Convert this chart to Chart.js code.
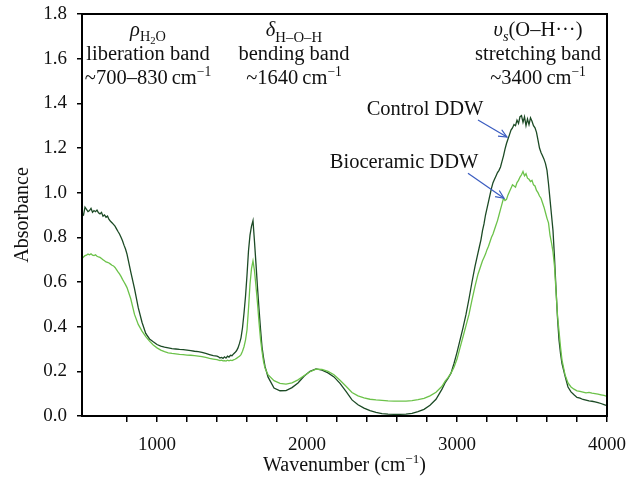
<!DOCTYPE html>
<html>
<head>
<meta charset="utf-8">
<script src="https://cdn.jsdelivr.net/npm/chart.js@4.4.1/dist/chart.umd.min.js"></script>
<style>
html,body{margin:0;padding:0;background:#fff;}
#wrap{position:relative;width:627px;height:486px;}
</style>
</head>
<body>
<div id="wrap"><canvas id="c"></canvas></div>
<script>
// Wavenumber (cm^-1) sample positions
const wavenumbers = [
 500,510,520,530,540,550,560,570,580,590,600,610,620,630,640,650,660,670,680,690,700,710,720,730,740,750,760,770,780,790,800,
 825,850,875,900,925,950,975,1000,1025,1050,1075,1100,1125,1150,1175,1200,1225,1250,1275,1300,1325,1350,1375,1400,
 1410,1420,1430,1440,1450,1460,1470,1480,1490,1500,1510,1520,1530,1540,1550,1560,1570,1580,1590,1600,1610,1620,1630,1640,1650,1660,1670,1680,1690,1700,1710,1720,
 1740,1780,1820,1860,1900,1940,1980,2020,2060,2100,2140,2180,2220,2260,2300,2340,2380,2420,2460,2500,2540,2580,2620,2660,2700,2740,2780,2820,2860,2900,
 2920,2940,2960,2980,3000,3020,3040,3060,3080,3100,3120,3140,
 3150,3160,3170,3180,3190,3200,3210,3220,3230,3240,3250,3260,3270,3280,3290,3300,3310,3320,3330,3340,3350,3360,3370,3380,3390,3400,3410,3420,3430,3440,3450,3460,3470,3480,3490,3500,3510,3520,3530,3540,3550,3560,3570,3580,3590,3600,3610,3620,3630,3640,3650,3660,3670,3680,3690,3700,
 3720,3740,3760,3780,3800,3820,3840,3860,3880,3900,3920,3940,3960,3980,4000
];

// Control DDW absorbance
const controlDDW = [
 0.905,0.900,0.935,0.925,0.915,0.920,0.930,0.912,0.920,0.915,0.922,0.910,0.905,0.912,0.895,0.900,0.890,0.895,0.880,0.872,0.865,0.858,0.850,0.838,0.826,0.815,0.800,0.785,0.765,0.748,0.725,
 0.645,0.570,0.485,0.420,0.370,0.345,0.332,0.320,0.313,0.308,0.305,0.302,0.300,0.298,0.297,0.295,0.293,0.290,0.288,0.285,0.280,0.275,0.270,0.268,
 0.265,0.260,0.262,0.258,0.265,0.259,0.268,0.264,0.272,0.270,0.278,0.284,0.292,0.305,0.325,0.350,0.395,0.460,0.535,0.630,0.740,0.810,0.850,0.875,0.780,0.680,0.575,0.480,0.390,0.310,0.262,0.222,
 0.175,0.125,0.113,0.114,0.127,0.148,0.178,0.200,0.211,0.205,0.193,0.175,0.146,0.110,0.072,0.050,0.035,0.024,0.016,0.011,0.008,0.007,0.007,0.008,0.012,0.020,0.030,0.048,0.075,0.120,
 0.148,0.168,0.192,0.235,0.285,0.340,0.395,0.455,0.525,0.600,0.670,0.730,
 0.760,0.790,0.830,0.860,0.900,0.930,0.960,0.990,1.020,1.045,1.060,1.075,1.090,1.100,1.115,1.140,1.165,1.195,1.220,1.240,1.260,1.280,1.290,1.305,1.300,1.325,1.310,1.340,1.345,1.315,1.340,1.300,1.330,1.305,1.335,1.320,1.300,1.290,1.270,1.235,1.200,1.180,1.165,1.150,1.130,1.100,1.040,0.970,0.900,0.830,0.710,0.570,0.440,0.340,0.280,0.235,
 0.180,0.130,0.108,0.095,0.083,0.080,0.074,0.071,0.068,0.066,0.063,0.060,0.056,0.051,0.046
];

// Bioceramic DDW absorbance
const bioceramicDDW = [
 0.705,0.712,0.718,0.720,0.725,0.722,0.726,0.720,0.718,0.722,0.715,0.712,0.710,0.705,0.700,0.695,0.690,0.688,0.685,0.680,0.675,0.672,0.665,0.655,0.645,0.636,0.625,0.612,0.600,0.588,0.575,
 0.525,0.455,0.410,0.380,0.355,0.335,0.318,0.305,0.295,0.288,0.283,0.280,0.278,0.276,0.275,0.273,0.272,0.270,0.268,0.266,0.262,0.258,0.255,0.252,
 0.250,0.248,0.250,0.247,0.248,0.246,0.250,0.247,0.250,0.248,0.251,0.254,0.258,0.263,0.268,0.275,0.290,0.310,0.340,0.385,0.480,0.590,0.660,0.695,0.650,0.580,0.505,0.420,0.345,0.290,0.245,0.215,
 0.185,0.158,0.146,0.143,0.148,0.162,0.180,0.198,0.210,0.209,0.200,0.185,0.160,0.133,0.105,0.090,0.081,0.075,0.072,0.070,0.068,0.067,0.067,0.067,0.069,0.073,0.079,0.090,0.106,0.133,
 0.155,0.172,0.192,0.218,0.255,0.305,0.355,0.405,0.455,0.520,0.580,0.635,
 0.655,0.675,0.695,0.710,0.725,0.745,0.760,0.780,0.800,0.815,0.835,0.855,0.875,0.900,0.925,0.950,0.975,0.965,0.970,0.990,1.005,1.020,1.035,1.030,1.025,1.045,1.055,1.070,1.080,1.095,1.075,1.085,1.065,1.060,1.050,1.055,1.035,1.030,1.010,1.000,0.985,0.975,0.955,0.935,0.910,0.885,0.865,0.810,0.775,0.735,0.670,0.560,0.450,0.380,0.310,0.250,
 0.185,0.148,0.130,0.120,0.113,0.110,0.107,0.104,0.106,0.102,0.100,0.098,0.095,0.092,0.088
];

// Tick labels
const xTickLabels = [1000, 2000, 3000, 4000];
const yTickLabels = ['0.0','0.2','0.4','0.6','0.8','1.0','1.2','1.4','1.6','1.8'];

const SERIF = '"Liberation Serif","DejaVu Serif",serif';

function segFont(s, size){
  return (s.it ? 'italic ' : '') + (size * (s.sc || 1)).toFixed(2) + 'px ' + SERIF;
}
function drawRich(ctx, segs, cx, baseY, size){
  let w = 0;
  for (const s of segs){ ctx.font = segFont(s, size); w += ctx.measureText(s.t).width; }
  let x = cx - w / 2;
  ctx.textAlign = 'left';
  ctx.textBaseline = 'alphabetic';
  for (const s of segs){
    ctx.font = segFont(s, size);
    ctx.fillText(s.t, x, baseY + (s.dy || 0) * size);
    x += ctx.measureText(s.t).width;
  }
}
const sup = {sc:0.66, dy:-0.42};

const annotations = {
  blocks: [
    {x: 940, lines: [
      [{t:'ρ',it:1},{t:'H',sc:0.7,dy:0.26},{t:'2',sc:0.52,dy:0.4},{t:'O',sc:0.7,dy:0.26}],
      [{t:'liberation band'}],
      [{t:'~700–830\u2009cm'},Object.assign({t:'−1'},sup)]
    ]},
    {x: 1913, lines: [
      [{t:'δ',it:1},{t:'H–O–H',sc:0.72,dy:0.32}],
      [{t:'bending band'}],
      [{t:'~1640\u2009cm'},Object.assign({t:'−1'},sup)]
    ]},
    {x: 3540, lines: [
      [{t:'υ',it:1},{t:'s',it:1,sc:0.7,dy:0.25},{t:'(O–H···)'}],
      [{t:'stretching band'}],
      [{t:'~3400\u2009cm'},Object.assign({t:'−1'},sup)]
    ]}
  ],
  lineY: [1.702, 1.594, 1.486],
  labels: [
    {t:'Control DDW', x: 2787, y: 1.35},
    {t:'Bioceramic DDW', x: 2647, y: 1.112}
  ],
  arrows: [
    {x1: 3140, y1: 1.325, x2: 3333, y2: 1.249},
    {x1: 3073, y1: 1.087, x2: 3313, y2: 0.975}
  ]
};

const decorPlugin = {
  id: 'decor',
  afterDraw(chart){
    const ctx = chart.ctx, ca = chart.chartArea;
    const xs = chart.scales.x, ys = chart.scales.y;
    ctx.save();
    // frame
    ctx.strokeStyle = '#000';
    ctx.lineWidth = 2;
    ctx.strokeRect(ca.left, ca.top, ca.right - ca.left, ca.bottom - ca.top);
    // annotation blocks
    ctx.fillStyle = '#111';
    const size = 20.5;
    for (const b of annotations.blocks){
      const cx = xs.getPixelForValue(b.x);
      b.lines.forEach((ln, i) => drawRich(ctx, ln, cx, ys.getPixelForValue(annotations.lineY[i]), size));
    }
    for (const l of annotations.labels){
      drawRich(ctx, [{t:l.t}], xs.getPixelForValue(l.x), ys.getPixelForValue(l.y), size);
    }
    // arrows
    ctx.strokeStyle = '#3a5cc0';
    ctx.lineWidth = 1.2;
    for (const a of annotations.arrows){
      const x1 = xs.getPixelForValue(a.x1), y1 = ys.getPixelForValue(a.y1);
      const x2 = xs.getPixelForValue(a.x2), y2 = ys.getPixelForValue(a.y2);
      ctx.beginPath(); ctx.moveTo(x1,y1); ctx.lineTo(x2,y2); ctx.stroke();
      const ang = Math.atan2(y2-y1, x2-x1), L = 9, da = 0.42;
      ctx.beginPath();
      ctx.moveTo(x2 - L*Math.cos(ang-da), y2 - L*Math.sin(ang-da));
      ctx.lineTo(x2, y2);
      ctx.lineTo(x2 - L*Math.cos(ang+da), y2 - L*Math.sin(ang+da));
      ctx.stroke();
    }
    // x-axis title
    ctx.fillStyle = '#111';
    drawRich(ctx, [{t:'Wavenumber (cm'},{t:'−1',sc:0.66,dy:-0.42},{t:')'}], (ca.left+ca.right)/2, 471, 20);
    ctx.restore();
  }
};

const mk = (arr) => wavenumbers.map((w, i) => ({x: w, y: arr[i]}));
const zeroPad = (s) => { s.paddingTop = 0; s.paddingBottom = 0; s.paddingLeft = 0; s.paddingRight = 0; };

new Chart(document.getElementById('c'), {
  type: 'line',
  data: {
    datasets: [
      {label: 'Bioceramic DDW', data: mk(bioceramicDDW), borderColor: '#6cc24a', borderWidth: 1.3, pointRadius: 0, tension: 0, fill: false},
      {label: 'Control DDW', data: mk(controlDDW), borderColor: '#1c4a25', borderWidth: 1.3, pointRadius: 0, tension: 0, fill: false}
    ]
  },
  options: {
    responsive: true,
    maintainAspectRatio: false,
    animation: false,
    layout: {padding: {top: 14, right: 20, left: 0, bottom: 0}},
    plugins: {legend: {display: false}, tooltip: {enabled: false}},
    scales: {
      x: {
        type: 'linear', min: 500, max: 4000,
        afterFit(s){ s.height = 70; zeroPad(s); },
        afterBuildTicks(s){ s.ticks = s.ticks.filter(t => Math.round(t.value) % 200 === 0); },
        ticks: {stepSize: 200, autoSkip: false, maxRotation: 0, padding: 12, color: '#111',
          font: {family: SERIF, size: 19},
          callback: (v) => xTickLabels.includes(v) ? String(v) : ''},
        grid: {display: true, drawOnChartArea: false, drawTicks: true, tickLength: 6, color: '#000', lineWidth: 1.5},
        border: {display: true, color: '#000', width: 2}
      },
      y: {
        min: 0, max: 1.8,
        afterFit(s){ s.width = 82; zeroPad(s); },
        ticks: {stepSize: 0.2, padding: 10, color: '#111',
          font: {family: SERIF, size: 19},
          callback: (v) => yTickLabels[Math.round(v / 0.2)]},
        grid: {display: true, drawOnChartArea: false, drawTicks: true, tickLength: 5, color: '#000', lineWidth: 1.5},
        border: {display: true, color: '#000', width: 2},
        title: {display: true, text: 'Absorbance', color: '#111', font: {family: SERIF, size: 20}, padding: {top: 11, bottom: 0}}
      }
    }
  },
  plugins: [decorPlugin]
});
</script>
</body>
</html>
